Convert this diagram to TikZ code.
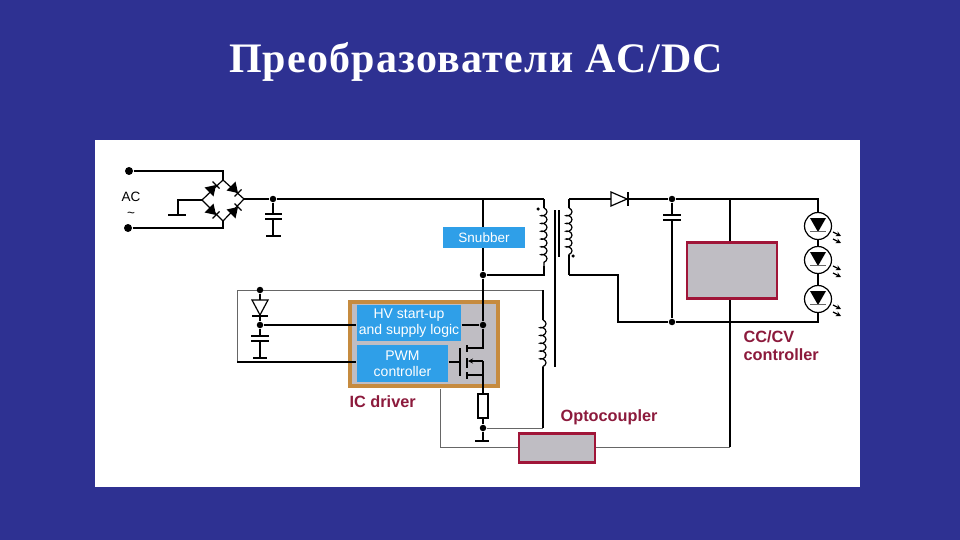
\documentclass[tikz,border=0pt]{standalone}
\usepackage{fontspec}
\setmainfont{Liberation Serif}
\newfontfamily\labelfont{Liberation Sans}
\usetikzlibrary{arrows.meta, decorations.pathmorphing}
\definecolor{slideblue}{HTML}{2E3192}
\definecolor{boxblue}{HTML}{2F9FE8}
\definecolor{boxgray}{HTML}{BFBDC3}
\definecolor{icorange}{HTML}{C68B3F}
\definecolor{darkred}{HTML}{8C1A3C}
\definecolor{boxred}{HTML}{A01538}
\definecolor{wiregray}{HTML}{666666}

\begin{document}
\begin{tikzpicture}[x=1pt,y=-1pt,line width=1.2pt,line join=miter]
    \tikzstyle{every node}=[font=\labelfont]
    \tikzstyle{dot} = [circle, fill=black, inner sep=0pt, minimum size=6.5pt]
    \tikzstyle{bigdot} = [circle, fill=black, inner sep=0pt, minimum size=8pt]
    \tikzstyle{smalldot} = [circle, fill=black, inner sep=0pt, minimum size=3.5pt]
    \tikzstyle{bluebox} = [fill=boxblue, text=white, inner sep=0pt, align=center, font=\labelfont\fontsize{14}{15.5}\selectfont]
    \tikzstyle{graybox} = [fill=boxgray, draw=boxred, line width=2.5pt, inner sep=0pt]
    \tikzstyle{redlabel} = [text=darkred, font=\labelfont\bfseries\fontsize{16.3}{18}\selectfont, inner sep=0pt, anchor=west, align=left]
    \tikzstyle{graywire} = [draw=wiregray, line width=0.9pt]
    \tikzstyle{coil} = [decorate, decoration={coil, aspect=0.6, segment length=7.8pt, amplitude=3pt}]

    \useasboundingbox (0,0) rectangle (960,540);
    \fill[slideblue] (0,0) rectangle (960,540);
    \fill[white] (95,140) rectangle (860,487);

    \node[text=white, font=\bfseries\fontsize{42}{48}\selectfont, inner sep=0pt, anchor=base] (title) at (476,73) {\addfontfeature{LetterSpace=2.9}Преобразователи AC/DC};

    % terminals and bridge
    \node[bigdot] (ac1) at (129,171) {};
    \node[bigdot] (ac2) at (128,228) {};
    \node[font=\labelfont\fontsize{13.5}{15.5}\selectfont, align=center, inner sep=0pt] (aclabel) at (131,205) {AC\\\string~};
    \coordinate (bt) at (223,180);
    \coordinate (bb) at (223,221);
    \coordinate (bl) at (202,200);
    \coordinate (br) at (244,199);
    \draw (ac1) -| (bt);
    \draw (ac2) -| (bb);
    \draw (bt) -- (br) -- (bb) -- (bl) -- cycle;
    \foreach \x/\y/\dx/\dy in {212/189/1/-1, 234/189/1/1, 212/211/1/1, 234/211/1/-1} {
        \fill[black] (\x+4*\dx,\y+4*\dy) -- (\x-3*\dx-4.5*\dy,\y-3*\dy+4.5*\dx) -- (\x-3*\dx+4.5*\dy,\y-3*\dy-4.5*\dx) -- cycle;
        \draw (\x+4*\dx-3.5*\dy,\y+4*\dy+3.5*\dx) -- (\x+4*\dx+3.5*\dy,\y+4*\dy-3.5*\dx);
    }
    \coordinate (gl) at (178,215);
    \draw (bl) -| (gl);
    \draw (168,215) -- (186,215);

    % input capacitor and main rail
    \node[dot] (in) at (273,199) {};
    \coordinate (pt) at (544,199);
    \draw (br) -- (in) -- (pt);
    \draw (in) -- (273,214) (273,219) -- (273,236);
    \draw (265,214) -- (282,214) (265,219) -- (282,219) (266,236) -- (281,236);

    % snubber
    \node[dot] (n1) at (483,275) {};
    \coordinate (railtap) at (483,199);
    \draw (railtap) -- (n1);
    \node[bluebox, font=\labelfont\fontsize{13.5}{15}\selectfont, minimum width=82pt, minimum height=21pt] (snubber) at (484,237.5) {Snubber};

    % transformer primary
    \draw (pt) -- (544,208);
    \draw[coil] (544,208) -- (544,266);
    \draw (544,266) -- (544,275) -- (n1);
    \node[smalldot] (dotp) at (538,209) {};
    % core
    \draw[line width=1.3pt] (555,210) -- (555,367);
    \draw[line width=1.3pt] (559,210) -- (559,257);
    % auxiliary winding
    \draw[graywire] (237,290) -- (543,290);
    \draw (543,290) -- (543,320);
    \draw[coil] (543,320) -- (543,367);
    \draw (543,367) -- (543,428);
    \draw[graywire] (237,290) -- (237,362);

    % secondary
    \coordinate (st) at (569,199);
    \coordinate (sb) at (569,275);
    \draw[coil] (569,208) -- (569,255);
    \draw (st) -- (569,208) (569,255) -- (sb);
    \node[smalldot] (dots) at (573,256) {};
    \node[dot] (n3) at (672,199) {};
    \node[dot] (n4) at (672,322) {};
    \coordinate (ledtop) at (818,199);
    \coordinate (ledbot) at (818,322);
    \draw (st) -- (611,199);
    \draw[fill=white] (611,192) -- (627,199) -- (611,206) -- cycle;
    \draw[line width=1.5pt] (628,192) -- (628,206);
    \draw (628,199) -- (n3) -- (ledtop) -- (ledbot) -- (n4);
    \draw (sb) -| (618,322) -- (n4);
    \draw (n3) -- (672,215) (672,220) -- (n4);
    \draw (663,215) -- (681,215) (663,220) -- (681,220);

    % leds
    \foreach \y/\n in {226/a, 260/b, 299/c} {
        \node[circle, draw=black, fill=white, minimum size=27pt, inner sep=0pt] (led\n) at (818,\y) {};
        \fill[black] (810,\y-8) -- (826,\y-8) -- (818,\y+6) -- cycle;
        \draw[line width=0.8pt, black!60] (810,\y+5) -- (826,\y+5);
        \draw[-{Stealth[length=5pt,width=5pt]}] (833,\y+6) -- (841,\y+10);
        \draw[-{Stealth[length=5pt,width=5pt]}] (833,\y+13) -- (841,\y+17);
    }

    % cc/cv controller and feedback
    \coordinate (fbtop) at (730,199);
    \coordinate (fbbot) at (730,447);
    \draw (fbtop) -- (fbbot);
    \node[graybox, minimum width=90pt, minimum height=56pt] (cccv) at (732,270.5) {};
    \node[redlabel] (cclabel) at (743,346) {CC/CV\\controller};

    % aux diode and capacitor
    \node[dot] (n5) at (260,290) {};
    \node[dot] (n6) at (260,325) {};
    \draw (n5) -- (260,300);
    \draw[fill=white] (252,300) -- (268,300) -- (260,315) -- cycle;
    \draw (252,316) -- (268,316);
    \draw (260,316) -- (n6) -- (260,336) (260,341) -- (260,358);
    \draw (251,336) -- (269,336) (251,341) -- (269,341) (253,358) -- (267,358);

    % ic driver
    \node[fill=boxgray, draw=icorange, line width=4pt, minimum width=148pt, minimum height=84pt, inner sep=0pt] (ic) at (423.5,343.5) {};
    \node[bluebox, minimum width=104pt, minimum height=36pt] (hv) at (409,323) {HV start-up\\and supply logic};
    \node[bluebox, minimum width=91pt, minimum height=37pt] (pwm) at (402.5,363.5) {PWM\\controller};
    \node[dot] (n7) at (483,325) {};
    \draw (n1) -- (n7);
    \draw (n6) -- (hv.west |- n6);
    \draw (hv.east |- n7) -- (n7);
    \draw (237,362) -- (pwm.west |- 0,362);
    \node[redlabel] (iclabel) at (349,402) {IC driver};

    % mosfet
    \draw (pwm.east |- 0,362) -- (460,362);
    \draw[line width=1.4pt] (460,348) -- (460,376);
    \draw[line width=1.4pt] (467,345) -- (467,352) (467,358) -- (467,368) (467,372) -- (467,379);
    \draw (n7) -- (483,348) -- (467,348);
    \draw[-{Stealth[length=5pt,width=5pt]}] (483,361) -- (468,361);
    \draw (467,375) -- (483,375);

    % sense resistor
    \node[draw=black, fill=white, minimum width=10pt, minimum height=24pt, inner sep=0pt] (rs) at (483,406) {};
    \draw (483,361) -- (rs.north);
    \node[dot] (n8) at (483,428) {};
    \draw (rs.south) -- (n8) -- (483,441);
    \draw (475,441) -- (489,441);
    \draw[graywire] (n8) -- (543,428);

    % optocoupler
    \node[graybox, minimum width=76pt, minimum height=29pt] (opto) at (557,448) {};
    \node[redlabel] (optolabel) at (560,417) {Optocoupler};
    \draw[graywire] (440,389) |- (opto.west |- fbbot);
    \draw[graywire] (opto.east |- fbbot) -- (fbbot);
\end{tikzpicture}
\end{document}
